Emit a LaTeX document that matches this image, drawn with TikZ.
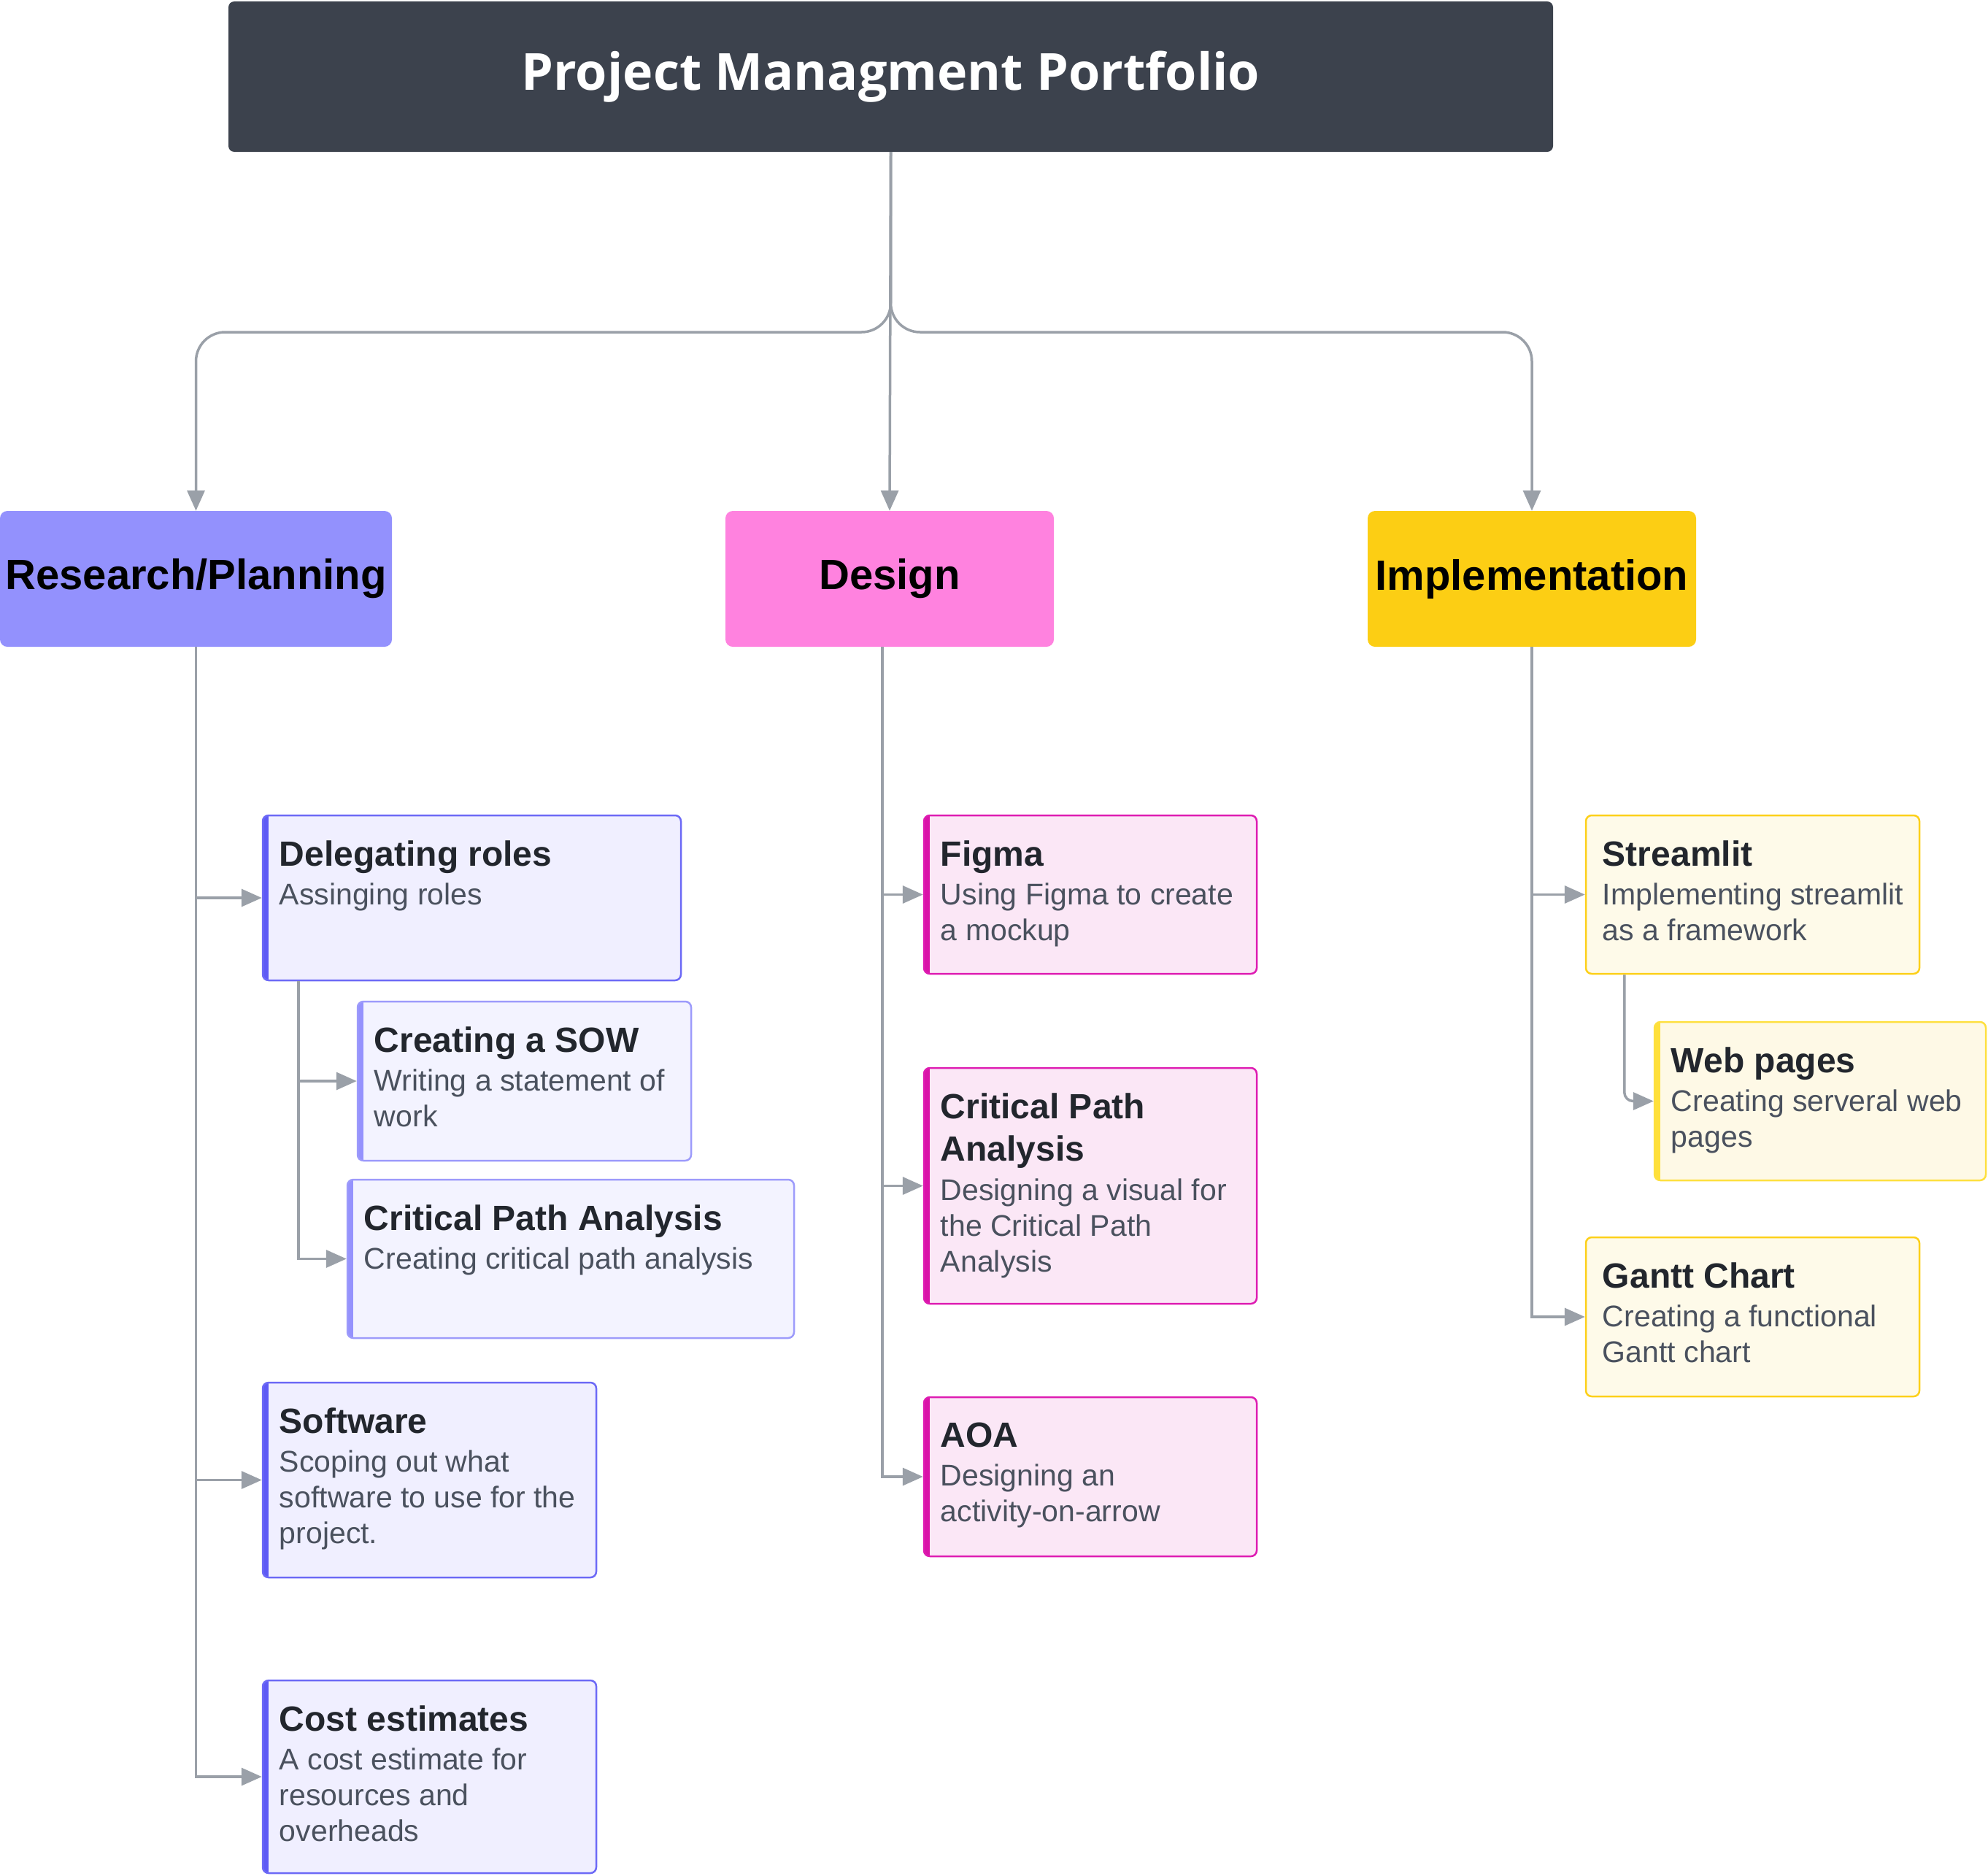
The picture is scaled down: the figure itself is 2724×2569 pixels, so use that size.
\documentclass[tikz,border=0pt]{standalone}
\usepackage{fontspec}
\setmainfont{Liberation Sans}
\newfontfamily\titlefont{Open Sans}
\usetikzlibrary{arrows.meta}

\definecolor{titlec}{HTML}{3C424D}
\definecolor{connc}{HTML}{9AA0A8}
\definecolor{researchc}{HTML}{9391FD}
\definecolor{designc}{HTML}{FF82DF}
\definecolor{implc}{HTML}{FCCE14}
\definecolor{headc}{HTML}{22262D}
\definecolor{bodyc}{HTML}{4A515E}
\definecolor{pfill}{HTML}{F0EFFF}
\definecolor{pline}{HTML}{6C69F6}
\definecolor{pbar}{HTML}{5E5AF5}
\definecolor{psfill}{HTML}{F3F3FF}
\definecolor{psline}{HTML}{9D9BFB}
\definecolor{psbar}{HTML}{9592FD}
\definecolor{kfill}{HTML}{FBE7F6}
\definecolor{kline}{HTML}{DE1CB2}
\definecolor{kbar}{HTML}{D914A8}
\definecolor{yfill}{HTML}{FEFAE9}
\definecolor{yline}{HTML}{FDD019}
\definecolor{ybar}{HTML}{FCCD12}
\definecolor{ysfill}{HTML}{FEF9E6}
\definecolor{ysline}{HTML}{FEE03F}
\definecolor{ysbar}{HTML}{FFE03A}

\newcommand\cardhead[1]{{\fontsize{48}{56}\selectfont\bfseries\color{headc}#1}}

\begin{document}
\begin{tikzpicture}[x=1pt,y=-1pt,
	conn/.style={draw=connc,line width=3.5pt,-{Triangle[length=28pt,width=24pt]}},
	cat/.style={rectangle,rounded corners=10pt,minimum height=186pt,text=black,
		font=\fontsize{58}{70}\selectfont\bfseries},
	accent/.style={path picture={\fill[#1,sharp corners] (path picture bounding box.north west)
		rectangle ([xshift=8pt]path picture bounding box.south west);}},
	card/.style={rectangle,rounded corners=8pt,line width=2.5pt,inner sep=0pt},
	pcard/.style={card,fill=pfill,draw=pline,accent=pbar},
	pscard/.style={card,fill=psfill,draw=psline,accent=psbar},
	kcard/.style={card,fill=kfill,draw=kline,accent=kbar},
	ycard/.style={card,fill=yfill,draw=yline,accent=ybar},
	yscard/.style={card,fill=ysfill,draw=ysline,accent=ysbar},
	txt/.style={anchor=north west,inner sep=0pt,align=left,text=bodyc,
		font=\fontsize{41}{49}\selectfont,execute at begin node=\rule{0pt}{36pt}}]
	\useasboundingbox (0,0) rectangle (2724,2569);
	
	% top and categories
	\node[fill=titlec,rounded corners=8pt,minimum width=1815pt,minimum height=206pt,text=white,
		font=\titlefont\bfseries\fontsize{70}{84}\selectfont] (title) at (1220.5,105) {\raisebox{4pt}{Project Managment Portfolio}};
	\node[cat,fill=researchc,minimum width=537pt] (research) at (268.5,793) {Research/Planning};
	\node[cat,fill=designc,minimum width=450pt] (design) at (1219,793) {Design};
	\node[cat,fill=implc,minimum width=450pt] (impl) at (2099,793) {Implementation};
	\coordinate (fork) at (1220,455);
	
	% research cards
	\node[pcard,minimum width=573pt,minimum height=226pt] (deleg) at (646.5,1230) {};
	\node[txt] (delegT) at ([shift={(24pt,-36pt)}]deleg.north west)
		{\cardhead{Delegating roles}\\[4pt]Assinging roles};
	\node[pscard,minimum width=457pt,minimum height=218pt] (sow) at (718.5,1481) {};
	\node[txt] (sowT) at ([shift={(24pt,-36pt)}]sow.north west)
		{\cardhead{Creating a SOW}\\[4pt]Writing a statement of\\work};
	\node[pscard,minimum width=612pt,minimum height=217pt] (cpa) at (782,1724.5) {};
	\node[txt] (cpaT) at ([shift={(24pt,-36pt)}]cpa.north west)
		{\cardhead{Critical Path Analysis}\\[4pt]Creating critical path analysis};
	\node[pcard,minimum width=457pt,minimum height=267pt] (soft) at (588.5,2027.5) {};
	\node[txt] (softT) at ([shift={(24pt,-36pt)}]soft.north west)
		{\cardhead{Software}\\[4pt]Scoping out what\\software to use for the\\project.};
	\node[pcard,minimum width=457pt,minimum height=264pt] (cost) at (588.5,2434) {};
	\node[txt] (costT) at ([shift={(24pt,-36pt)}]cost.north west)
		{\cardhead{Cost estimates}\\[4pt]A cost estimate for\\resources and\\overheads};
	
	% design cards
	\node[kcard,minimum width=456pt,minimum height=217pt] (figma) at (1494,1225.5) {};
	\node[txt] (figmaT) at ([shift={(24pt,-36pt)}]figma.north west)
		{\cardhead{Figma}\\[4pt]Using Figma to create\\a mockup};
	\node[kcard,minimum width=456pt,minimum height=323pt] (cpad) at (1494,1624.5) {};
	\node[txt] (cpadT) at ([shift={(24pt,-36pt)}]cpad.north west)
		{\cardhead{Critical Path}\\[9pt]\cardhead{Analysis}\\[5pt]Designing a visual for\\the Critical Path\\Analysis};
	\node[kcard,minimum width=456pt,minimum height=218pt] (aoa) at (1494,2023) {};
	\node[txt] (aoaT) at ([shift={(24pt,-36pt)}]aoa.north west)
		{\cardhead{AOA}\\[4pt]Designing an\\activity-on-arrow};
	
	% implementation cards
	\node[ycard,minimum width=457pt,minimum height=217pt] (stream) at (2401.5,1225.5) {};
	\node[txt] (streamT) at ([shift={(24pt,-36pt)}]stream.north west)
		{\cardhead{Streamlit}\\[4pt]Implementing streamlit\\as a framework};
	\node[yscard,minimum width=454pt,minimum height=217pt] (web) at (2494,1508.5) {};
	\node[txt] (webT) at ([shift={(24pt,-36pt)}]web.north west)
		{\cardhead{Web pages}\\[4pt]Creating serveral web\\pages};
	\node[ycard,minimum width=457pt,minimum height=218pt] (gantt) at (2401.5,1804) {};
	\node[txt] (ganttT) at ([shift={(24pt,-36pt)}]gantt.north west)
		{\cardhead{Gantt Chart}\\[4pt]Creating a functional\\Gantt chart};
	
	% connectors
	\draw[conn,rounded corners=40pt] (title.south) -- (title.south |- fork) -| (research.north);
	\draw[conn,rounded corners=40pt] (title.south) -- (title.south |- fork) -| (impl.north);
	\draw[conn] (title.south) -- (design.north);
	\draw[conn] (research.south) |- (deleg.west);
	\draw[conn] (research.south) |- (soft.west);
	\draw[conn] (research.south) |- (cost.west);
	\draw[conn] ([xshift=50pt]deleg.south west) |- (sow.west);
	\draw[conn] ([xshift=50pt]deleg.south west) |- (cpa.west);
	\draw[conn] ([xshift=-10pt]design.south) |- (figma.west);
	\draw[conn] ([xshift=-10pt]design.south) |- (cpad.west);
	\draw[conn] ([xshift=-10pt]design.south) |- (aoa.west);
	\draw[conn] (impl.south) |- (stream.west);
	\draw[conn] (impl.south) |- (gantt.west);
	\draw[conn,rounded corners=12pt] ([xshift=54pt]stream.south west) |- (web.west);
\end{tikzpicture}
\end{document}
